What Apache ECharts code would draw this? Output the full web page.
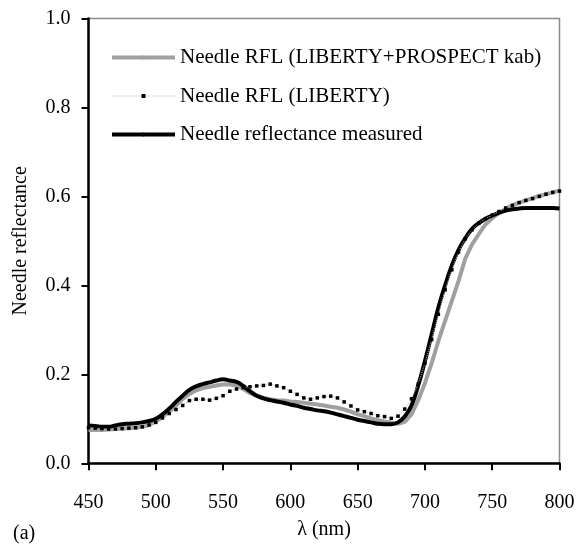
<!DOCTYPE html>
<html>
<head>
<meta charset="utf-8">
<script src="https://cdn.jsdelivr.net/npm/echarts@6/dist/echarts.min.js"></script>
<style>
  html, body { margin: 0; padding: 0; background: #fff; }
  #chart { width: 579px; height: 550px; }
</style>
</head>
<body>
<div id="chart"></div>
<script>
// Wavelengths (nm), 5 nm steps from 450 to 800
const wavelengths = [
  450, 455, 460, 465, 470, 475, 480, 485, 490, 495,
  500, 505, 510, 515, 520, 525, 530, 535, 540, 545,
  550, 555, 560, 565, 570, 575, 580, 585, 590, 595,
  600, 605, 610, 615, 620, 625, 630, 635, 640, 645,
  650, 655, 660, 665, 670, 675, 680, 685, 690, 695,
  700, 705, 710, 715, 720, 725, 730, 735, 740, 745,
  750, 755, 760, 765, 770, 775, 780, 785, 790, 795, 800
];

// Simulated needle reflectance, LIBERTY + PROSPECT kab
const rflProspect = [
  0.075, 0.075, 0.075, 0.076, 0.077, 0.078, 0.079, 0.080, 0.082, 0.086,
  0.094, 0.104, 0.117, 0.130, 0.145, 0.156, 0.164, 0.169, 0.172, 0.175,
  0.177, 0.177, 0.175, 0.167, 0.158, 0.152, 0.147, 0.144, 0.142, 0.141,
  0.139, 0.138, 0.136, 0.134, 0.132, 0.130, 0.127, 0.125, 0.121, 0.116,
  0.110, 0.106, 0.101, 0.097, 0.094, 0.091, 0.089, 0.093, 0.110, 0.142,
  0.180, 0.225, 0.275, 0.320, 0.365, 0.410, 0.460, 0.492, 0.515, 0.537,
  0.551, 0.563, 0.572, 0.580, 0.586, 0.591, 0.596, 0.601, 0.605, 0.609, 0.613
];

// Simulated needle reflectance, LIBERTY only
const rflLiberty = [
  0.080, 0.079, 0.078, 0.077, 0.077, 0.078, 0.079, 0.080, 0.082, 0.086,
  0.092, 0.102, 0.112, 0.121, 0.130, 0.141, 0.144, 0.144, 0.142, 0.146,
  0.152, 0.162, 0.167, 0.170, 0.172, 0.174, 0.175, 0.178, 0.174, 0.170,
  0.162, 0.155, 0.147, 0.144, 0.147, 0.150, 0.151, 0.147, 0.138, 0.129,
  0.120, 0.116, 0.112, 0.107, 0.105, 0.101, 0.106, 0.122, 0.145, 0.178,
  0.225, 0.278, 0.335, 0.390, 0.435, 0.475, 0.505, 0.525, 0.540, 0.550,
  0.558, 0.566, 0.574, 0.580, 0.586, 0.591, 0.595, 0.600, 0.605, 0.609, 0.612
];

// Measured needle reflectance
const rflMeasured = [
  0.085, 0.084, 0.082, 0.082, 0.085, 0.088, 0.089, 0.090, 0.092, 0.095,
  0.100, 0.110, 0.123, 0.138, 0.152, 0.165, 0.173, 0.178, 0.182, 0.186,
  0.189, 0.186, 0.183, 0.174, 0.162, 0.152, 0.146, 0.142, 0.139, 0.136,
  0.132, 0.129, 0.125, 0.122, 0.119, 0.117, 0.114, 0.110, 0.106, 0.102,
  0.098, 0.095, 0.092, 0.089, 0.088, 0.088, 0.092, 0.105, 0.130, 0.175,
  0.230, 0.290, 0.350, 0.400, 0.445, 0.480, 0.506, 0.527, 0.540, 0.550,
  0.557, 0.563, 0.568, 0.571, 0.573, 0.574, 0.574, 0.574, 0.574, 0.574, 0.573
];

const seriesNames = [
  'Needle RFL (LIBERTY+PROSPECT kab)',
  'Needle RFL (LIBERTY)',
  'Needle reflectance measured'
];

const xTicks = { min: 450, max: 800, step: 50 };
const yTicks = { min: 0, max: 1, step: 0.2 };

const pairs = vals => wavelengths.map((w, i) => [w, vals[i]]);

const FONT = '"Liberation Serif", "DejaVu Serif", serif';
const GREY = '#a0a0a0';

const chart = echarts.init(document.getElementById('chart'), null, { renderer: 'canvas' });

chart.setOption({
  animation: false,
  backgroundColor: '#ffffff',
  textStyle: { fontFamily: FONT, color: '#000' },
  grid: {
    left: 88.5, right: 19.5, top: 18.5, bottom: 86.7,
    show: true, borderColor: '#8c8c8c', borderWidth: 1.5, backgroundColor: 'transparent'
  },
  legend: {
    left: 105, top: 42, orient: 'vertical',
    itemWidth: 63, itemHeight: 5, itemGap: 17.5,
    textStyle: { fontFamily: FONT, fontSize: 21, color: '#000', lineHeight: 21 },
    data: [
      { name: seriesNames[0], lineStyle: { width: 4, color: GREY }, itemStyle: { color: GREY, borderWidth: 0 } },
      { name: seriesNames[1], lineStyle: { width: 1, color: '#b8b8b8', type: 'dotted' }, itemStyle: { color: '#000', borderWidth: 0 } },
      { name: seriesNames[2], lineStyle: { width: 4, color: '#000' }, itemStyle: { color: '#000', borderWidth: 0 } }
    ]
  },
  xAxis: {
    type: 'value', min: xTicks.min, max: xTicks.max, interval: xTicks.step,
    name: 'λ (nm)', nameLocation: 'middle', nameGap: 56,
    nameTextStyle: { fontFamily: FONT, fontSize: 20, color: '#000' },
    axisLine: { show: true, onZero: false, lineStyle: { color: '#000', width: 2.5 } },
    axisTick: { show: true, inside: false, length: 7, lineStyle: { color: '#000', width: 2 } },
    axisLabel: { margin: 29, fontFamily: FONT, fontSize: 20, color: '#000' },
    splitLine: { show: false }
  },
  yAxis: {
    type: 'value', min: yTicks.min, max: yTicks.max, interval: yTicks.step,
    name: 'Needle reflectance', nameLocation: 'middle', nameGap: 58,
    nameTextStyle: { fontFamily: FONT, fontSize: 20, color: '#000' },
    axisLine: { show: true, onZero: false, lineStyle: { color: '#000', width: 2.5 } },
    axisTick: { show: true, inside: false, length: 7, lineStyle: { color: '#000', width: 2 } },
    axisLabel: { margin: 18, fontFamily: FONT, fontSize: 20, color: '#000',
      formatter: v => v.toFixed(1) },
    splitLine: { show: false }
  },
  graphic: [
    { type: 'text', left: 13, top: 524,
      style: { text: '(a)', font: '20px ' + FONT, fill: '#000' } }
  ],
  series: [
    {
      name: seriesNames[0], type: 'line', data: pairs(rflProspect),
      symbol: 'none', smooth: false, z: 2,
      lineStyle: { color: GREY, width: 4 },
      itemStyle: { color: GREY }
    },
    {
      name: seriesNames[1], type: 'line', data: pairs(rflLiberty),
      symbol: 'rect', symbolSize: 3.5, showSymbol: true, showAllSymbol: true, z: 4,
      lineStyle: { color: '#b8b8b8', width: 1, type: 'dotted' },
      itemStyle: { color: '#000', borderWidth: 0 }
    },
    {
      name: seriesNames[2], type: 'line', data: pairs(rflMeasured),
      symbol: 'none', smooth: true, z: 3,
      lineStyle: { color: '#000', width: 4 },
      itemStyle: { color: '#000' }
    }
  ]
});
</script>
</body>
</html>
